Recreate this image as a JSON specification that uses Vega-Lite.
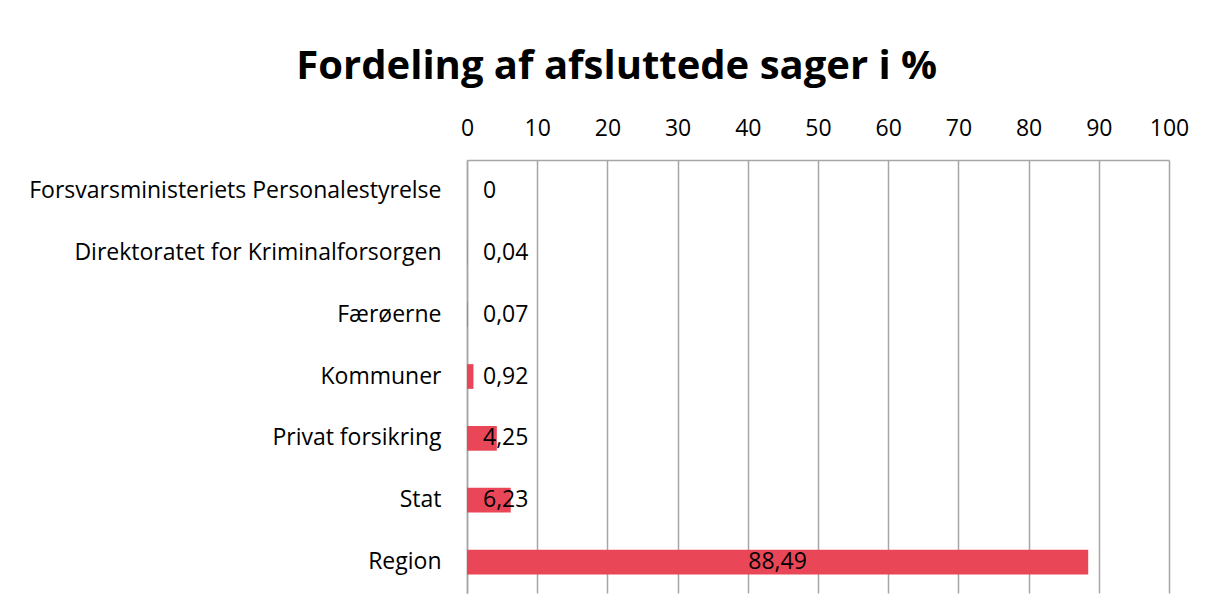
{
  "$schema": "https://vega.github.io/schema/vega-lite/v6.json",
  "width": 702,
  "height": 433,
  "autosize": "none",
  "padding": {"left": 467, "top": 160, "right": 37, "bottom": 22},
  "background": "white",
  "title": {
    "text": "Fordeling af afsluttede sager i %",
    "font": "Open Sans",
    "fontSize": 40,
    "fontWeight": "bold",
    "color": "black",
    "anchor": "middle",
    "frame": "bounds",
    "dx": 8,
    "offset": 30
  },
  "data": {
    "values": [
      {"k": "Forsvarsministeriets Personalestyrelse", "v": 0},
      {"k": "Direktoratet for Kriminalforsorgen", "v": 0.04},
      {"k": "Færøerne", "v": 0.07},
      {"k": "Kommuner", "v": 0.92},
      {"k": "Privat forsikring", "v": 4.25},
      {"k": "Stat", "v": 6.23},
      {"k": "Region", "v": 88.49}
    ]
  },
  "encoding": {
    "y": {
      "field": "k",
      "type": "nominal",
      "sort": null,
      "title": null,
      "scale": {"paddingInner": 0.6, "paddingOuter": 0.3},
      "axis": {
        "labelFont": "Open Sans",
        "labelFontSize": 23,
        "labelColor": "black",
        "labelPadding": 26,
        "labelLimit": 500,
        "ticks": false,
        "domain": true,
        "domainColor": "#A6A6A6",
        "domainWidth": 1.5,
        "grid": false
      }
    }
  },
  "layer": [
    {
      "mark": {"type": "bar", "color": "#E94757"},
      "encoding": {
        "x": {
          "field": "v",
          "type": "quantitative",
          "title": null,
          "scale": {"domain": [0, 100], "nice": false},
          "axis": {
            "orient": "top",
            "values": [0, 10, 20, 30, 40, 50, 60, 70, 80, 90, 100],
            "labelFont": "Open Sans",
            "labelFontSize": 23,
            "labelColor": "black",
            "labelPadding": 20,
            "labelFlush": false,
            "ticks": false,
            "domain": true,
            "domainColor": "#A6A6A6",
            "domainWidth": 1.5,
            "grid": true,
            "gridColor": "#A6A6A6",
            "gridWidth": 1.5
          }
        }
      }
    },
    {
      "transform": [{"filter": "datum.v < 50"}],
      "mark": {"type": "text", "font": "Open Sans", "fontSize": 23, "color": "black", "align": "left", "baseline": "middle", "dx": 16},
      "encoding": {
        "x": {"datum": 0, "type": "quantitative"},
        "text": {"field": "v", "type": "quantitative", "format": ".2~f"}
      }
    },
    {
      "transform": [{"filter": "datum.v >= 50"}, {"calculate": "datum.v / 2", "as": "mid"}],
      "mark": {"type": "text", "font": "Open Sans", "fontSize": 23, "color": "black", "align": "center", "baseline": "middle"},
      "encoding": {
        "x": {"field": "mid", "type": "quantitative"},
        "text": {"field": "v", "type": "quantitative", "format": ".2~f"}
      }
    }
  ],
  "config": {
    "view": {"stroke": null},
    "locale": {"number": {"decimal": ",", "thousands": ".", "grouping": [3], "currency": ["", " kr."]}}
  }
}
